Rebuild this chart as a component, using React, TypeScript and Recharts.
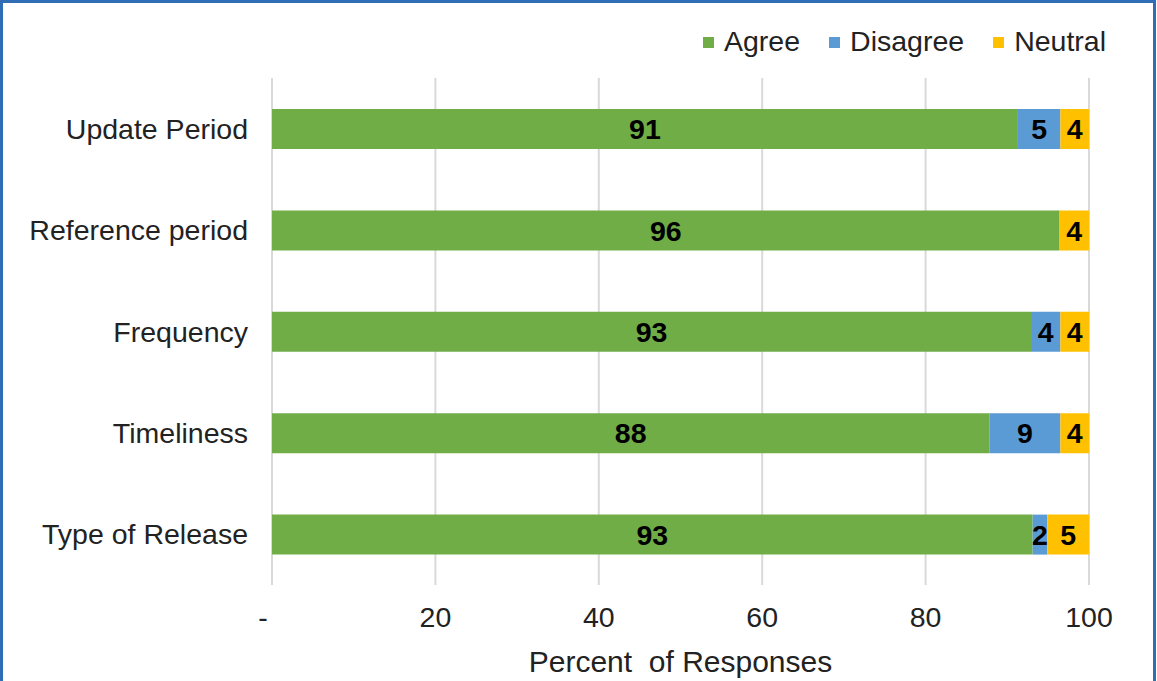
import React from 'react';
import { BarChart, Bar, XAxis, YAxis, CartesianGrid, Legend, LabelList, Label } from 'recharts';

const categories = ['Update Period', 'Reference period', 'Frequency', 'Timeliness', 'Type of Release'];
const agree = [91.3, 96.4, 92.9, 87.8, 93.1];
const disagree = [5.2, 0, 3.6, 8.7, 1.8];
const neutral = [3.5, 3.6, 3.5, 3.5, 5.1];
const xTicks = [0, 20, 40, 60, 80, 100];
const xTickLabels = ['-', '20', '40', '60', '80', '100'];

const SERIES = [
  { key: 'Agree', color: '#70ad47' },
  { key: 'Disagree', color: '#5b9bd5' },
  { key: 'Neutral', color: '#ffc000' },
];

const data = categories.map((c, i) => ({
  name: c,
  Agree: agree[i],
  Disagree: disagree[i],
  Neutral: neutral[i],
}));

const FONT = '"Liberation Sans", Arial, sans-serif';
const TEXT = '#222222';

const renderLegend = () => (
  <div style={{ display: 'flex', alignItems: 'center', fontFamily: FONT, fontSize: 28.5, color: TEXT, lineHeight: '36px' }}>
    {SERIES.map((s) => (
      <div key={s.key} style={{ display: 'flex', alignItems: 'center', marginRight: 29 }}>
        <span style={{ display: 'inline-block', width: 11, height: 11, background: s.color, marginRight: 10, position: 'relative', top: 1 }} />
        <span>{s.key}</span>
      </div>
    ))}
  </div>
);

const XTick = (props: any) => {
  const { x, y, payload } = props;
  const idx = xTicks.indexOf(payload.value);
  const label = idx >= 0 ? xTickLabels[idx] : String(payload.value);
  const shift = payload.value === 0 ? -9 : 0;
  return (
    <text x={x + shift} y={y} dy="0.71em" textAnchor="middle" fontFamily={FONT} fontSize={28.5} fill={TEXT}>
      {label}
    </text>
  );
};

const fmt = (v: any) => (typeof v === 'number' && v > 0 ? Math.round(v) : '');

export default function App() {
  return (
    <div style={{ position: 'absolute', left: 0, top: 0, width: 1157, height: 681, background: '#fff', overflow: 'hidden' }}>
      <BarChart
        width={1157}
        height={681}
        data={data}
        layout="vertical"
        margin={{ top: 78, right: 68, bottom: 0, left: 0 }}
        barSize={40}
      >
        <CartesianGrid horizontal={false} stroke="#d9d9d9" strokeWidth={2} />
        <XAxis
          type="number"
          domain={[0, 100]}
          ticks={xTicks}
          axisLine={false}
          tickLine={false}
          tickSize={6}
          tickMargin={16}
          height={96}
          tick={<XTick />}
          interval={0}
        >
          <Label
            value={'Percent\u00a0 of Responses'}
            position="insideBottom"
            offset={9}
            style={{ fontFamily: FONT, fontSize: 30, fill: TEXT }}
          />
        </XAxis>
        <YAxis
          type="category"
          dataKey="name"
          width={272}
          axisLine={false}
          tickLine={false}
          tickSize={6}
          tickMargin={18}
          interval={0}
          tick={{ fontFamily: FONT, fontSize: 28.5, fill: TEXT }}
        />
        <Legend
          layout="horizontal"
          verticalAlign="middle"
          align="center"
          content={renderLegend}
          wrapperStyle={{ top: 23, left: 703, width: 440, height: 36 }}
        />
        {SERIES.map((s) => (
          <Bar key={s.key} dataKey={s.key} stackId="a" fill={s.color} isAnimationActive={false}>
            <LabelList
              dataKey={s.key}
              position="center"
              formatter={fmt}
              style={{ fontFamily: FONT, fontSize: 28.5, fontWeight: 'bold', fill: '#000' }}
            />
          </Bar>
        ))}
      </BarChart>
      <div
        style={{
          position: 'absolute',
          left: 0,
          top: 0,
          width: 1156,
          height: 720,
          boxSizing: 'border-box',
          border: '3px solid #2f6db5',
          pointerEvents: 'none',
        }}
      />
    </div>
  );
}
